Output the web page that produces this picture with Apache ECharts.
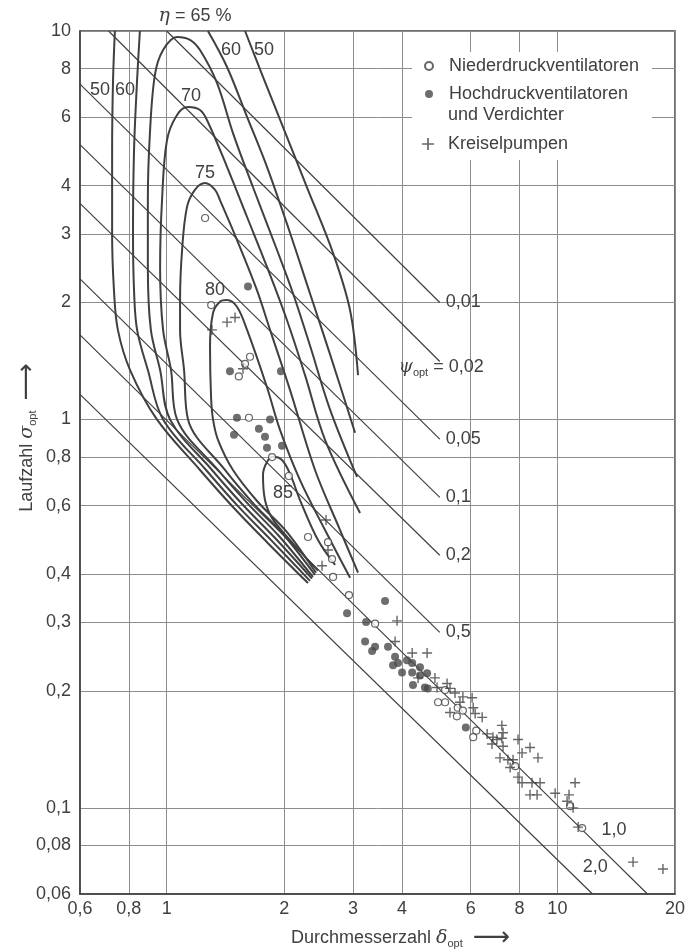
<!DOCTYPE html>
<html><head><meta charset="utf-8">
<script src="https://cdn.jsdelivr.net/npm/echarts@6/dist/echarts.min.js"></script>
<style>html,body{margin:0;padding:0;background:#fff}#c{width:693px;height:951px}</style>
</head><body><div id="c"></div>
<script>
// ---------- axis ticks ----------
const xTicks = [0.6, 0.8, 1, 2, 3, 4, 6, 8, 10, 20];
const xTickLabels = ['0,6', '0,8', '1', '2', '3', '4', '6', '8', '10', '20'];
const yTicks = [0.06, 0.08, 0.1, 0.2, 0.3, 0.4, 0.6, 0.8, 1, 2, 3, 4, 6, 8, 10];
const yTickLabels = ['0,06', '0,08', '0,1', '0,2', '0,3', '0,4', '0,6', '0,8', '1', '2', '3', '4', '6', '8', '10'];

// ---------- efficiency curves (delta, sigma) ----------
const eta50Left = [[0.737,10],[0.729,7.48],[0.725,4.94],[0.725,3.02],[0.733,2.15],[0.750,1.70],[0.806,1.34],[0.944,1.00],[1.217,0.741],[1.478,0.595],[1.806,0.483],[2.30,0.379]];
const eta50Right = [[1.587,10],[1.764,7.62],[1.985,5.66],[2.286,3.96],[2.666,2.68],[2.947,1.91],[3.089,1.30]];
const eta60Left = [[0.854,10],[0.840,7.48],[0.825,4.94],[0.820,3.02],[0.825,2.15],[0.840,1.70],[0.895,1.34],[0.979,1.00],[1.261,0.741],[1.522,0.598],[1.850,0.489],[2.327,0.384]];
const eta60Right = [[1.275,10],[1.427,8.08],[1.606,6.01],[1.806,4.47],[2.069,3.02],[2.327,2.11],[2.619,1.47],[3.035,0.924]];
const eta65 = [[2.355,0.389],[1.894,0.495],[1.568,0.602],[1.306,0.741],[1.020,1.00],[0.962,1.34],[0.911,1.70],[0.895,2.47],[0.895,3.67],[0.906,5.46],[0.933,7.71],[0.979,8.93],[1.063,9.65],[1.147,9.49],[1.217,8.93],[1.345,7.35],[1.478,5.46],[1.663,3.96],[1.916,2.73],[2.106,2.11],[2.327,1.55],[2.619,1.06],[3.071,0.711]];
const eta70 = [[2.368,0.393],[1.938,0.501],[1.615,0.606],[1.353,0.741],[1.063,1.00],[1.026,1.34],[0.979,1.70],[0.962,2.47],[0.973,3.67],[1.002,5.24],[1.063,6.08],[1.134,6.37],[1.217,6.26],[1.268,5.90],[1.427,4.47],[1.606,3.32],[1.806,2.47],[2.032,1.80],[2.260,1.30],[2.543,0.886],[3.126,0.574]];
const eta75 = [[2.397,0.398],[1.985,0.507],[1.663,0.609],[1.410,0.741],[1.134,1.00],[1.108,1.34],[1.082,1.70],[1.082,2.03],[1.095,2.73],[1.127,3.52],[1.181,3.90],[1.254,4.06],[1.330,3.90],[1.369,3.67],[1.513,2.90],[1.703,2.15],[1.839,1.70],[2.069,1.19],[2.397,0.741],[2.778,0.519],[3.089,0.403]];
const eta80 = [[2.411,0.403],[2.032,0.513],[1.712,0.613],[1.478,0.741],[1.353,0.886],[1.314,1.00],[1.299,1.14],[1.291,1.54],[1.314,1.88],[1.369,2.01],[1.427,2.03],[1.513,1.95],[1.606,1.70],[1.806,1.21],[1.950,0.940],[2.194,0.698],[2.543,0.519],[2.947,0.391]];
const eta85 = [[2.439,0.408],[2.069,0.489],[1.861,0.557],[1.785,0.620],[1.764,0.719],[1.806,0.777],[1.872,0.801],[1.973,0.786],[2.069,0.724],[2.194,0.620],[2.439,0.489],[2.698,0.422]];

// ---------- pressure-number lines psi_opt ----------
const psiLabels = ['0,01', '0,02', '0,05', '0,1', '0,2', '0,5', '1,0', '2,0'];
const psi001 = [[1.0,10],[5.0,2.0]];
const psi002 = [[0.71,10],[5.0,1.41]];
const psi005 = [[0.6,7.3],[5.0,0.89]];
const psi01 = [[0.6,5.1],[5.0,0.63]];
const psi02 = [[0.6,3.6],[5.0,0.447]];
const psi05 = [[0.6,2.3],[5.0,0.283]];
const psi10 = [[0.6,1.65],[11.6,0.0876],[17.0,0.06]];
const psi20 = [[0.6,1.16],[10.45,0.0704],[12.3,0.06]];

// ---------- measured machines ----------
const niederdruck = [[1.254,3.30],[1.30,1.97],[1.634,1.45],[1.587,1.39],[1.530,1.29],[1.624,1.01],[1.861,0.80],[2.055,0.715],[2.30,0.498],[2.588,0.483],[2.650,0.437],[2.666,0.393],[2.928,0.353],[3.415,0.298],[5.16,0.201],[4.95,0.187],[5.16,0.187],[5.56,0.181],[5.73,0.178],[5.53,0.172],[6.20,0.158],[6.09,0.152],[7.80,0.128],[10.78,0.101],[11.57,0.0887]];
const hochdruck = [[1.615,2.20],[1.452,1.33],[1.961,1.33],[1.513,1.01],[1.839,1.00],[1.487,0.913],[1.722,0.946],[1.785,0.902],[1.806,0.845],[1.973,0.855],[2.895,0.317],[3.622,0.341],[3.239,0.301],[3.220,0.268],[3.415,0.260],[3.356,0.2535],[3.685,0.260],[3.796,0.233],[3.909,0.236],[4.122,0.240],[4.25,0.236],[4.003,0.223],[4.25,0.223],[4.45,0.230],[4.45,0.219],[4.64,0.222],[4.27,0.207],[4.58,0.204],[4.66,0.203],[5.83,0.161],[3.842,0.245]];
const kreiselpumpen = [[1.306,1.70],[1.427,1.78],[1.496,1.83],[1.568,1.35],[2.558,0.551],[2.588,0.461],[2.498,0.420],[3.887,0.303],[3.842,0.268],[4.25,0.2505],[4.64,0.2505],[4.40,0.216],[4.86,0.216],[5.22,0.209],[4.92,0.204],[5.31,0.203],[5.47,0.1975],[5.73,0.193],[6.05,0.192],[5.63,0.187],[6.09,0.181],[6.42,0.171],[5.31,0.176],[6.16,0.175],[6.61,0.155],[6.84,0.152],[7.21,0.163],[7.26,0.156],[7.00,0.150],[6.80,0.146],[7.21,0.151],[7.26,0.144],[7.93,0.150],[8.12,0.1385],[8.51,0.143],[8.92,0.1345],[7.13,0.1345],[7.47,0.133],[7.70,0.133],[7.57,0.127],[7.93,0.120],[8.12,0.116],[8.61,0.116],[9.03,0.116],[8.51,0.108],[8.87,0.108],[9.87,0.109],[11.10,0.116],[10.71,0.108],[10.59,0.104],[10.97,0.100],[11.30,0.0892],[15.62,0.0725],[18.63,0.0696]];

// ---------- styling ----------
const INK = '#404040';
const GRIDC = '#8c8c8c';
const FONT = '"Liberation Sans", Arial, Helvetica, sans-serif';
const SERIF = '"DejaVu Serif", "Liberation Serif", serif';
const PLUS = 'path://M4.3,0h1.4v4.3h4.3v1.4h-4.3v4.3h-1.4v-4.3h-4.3v-1.4h4.3z';

function nearestLabel(ticks, labels) {
  return function (v) {
    let best = 0;
    for (let i = 1; i < ticks.length; i++) {
      if (Math.abs(Math.log(ticks[i] / v)) < Math.abs(Math.log(ticks[best] / v))) best = i;
    }
    return labels[best];
  };
}

const baseLabel = { show: true, color: INK, fontSize: 18, fontFamily: FONT };

function curve(name, pts, lab) {
  return {
    type: 'line', name: name,
    data: pts.map(function (p, i) {
      if (lab && i === lab.index) {
        return { value: p, label: Object.assign({}, baseLabel, lab.style) };
      }
      return p;
    }),
    showSymbol: true, showAllSymbol: true, symbol: 'circle', symbolSize: 0,
    itemStyle: { color: 'transparent' },
    label: { show: false },
    smooth: 0.35,
    lineStyle: { color: INK, width: 2 },
    silent: true, z: 3, emphasis: { disabled: true }
  };
}

function psiLine(pts, text, endStyle, mid) {
  const s = {
    type: 'line',
    data: pts.map(function (p, i) {
      if (mid && i === 1) return { value: p, label: Object.assign({}, baseLabel, { formatter: text }, mid) };
      return p;
    }),
    showSymbol: true, showAllSymbol: true, symbol: 'circle', symbolSize: 0,
    itemStyle: { color: 'transparent' }, label: { show: false },
    lineStyle: { color: INK, width: 1.2 },
    silent: true, z: 3, emphasis: { disabled: true }
  };
  if (endStyle) s.endLabel = Object.assign({}, baseLabel, { formatter: text, distance: 6 }, endStyle);
  return s;
}

const etaRich = { i: { fontStyle: 'italic', fontFamily: SERIF, fontSize: 19, color: INK } };
const psiRich = {
  g: { fontStyle: 'italic', fontFamily: SERIF, fontSize: 18, color: INK, lineHeight: 22 },
  s: { fontSize: 11, fontFamily: FONT, color: INK, verticalAlign: 'bottom', lineHeight: 12 },
  n: { fontSize: 18, fontFamily: FONT, color: INK, lineHeight: 22 }
};

const series = [
  curve('eta50L', eta50Left, { index: 1, style: { formatter: '50', position: 'left', distance: 3, offset: [0, 10] } }),
  curve('eta50R', eta50Right, { index: 1, style: { formatter: '50', position: 'top', distance: 18, offset: [1, 0] } }),
  curve('eta60L', eta60Left, { index: 1, style: { formatter: '60', position: 'left', distance: 2, offset: [0, 10] } }),
  curve('eta60R', eta60Right, { index: 1, style: { formatter: '60', position: 'top', distance: 8, offset: [4, 0] } }),
  curve('eta65', eta65, { index: 12, style: { formatter: '{i|η} = 65 %', rich: etaRich, position: 'top', distance: 5, offset: [18, -6] } }),
  curve('eta70', eta70, { index: 11, style: { formatter: '70', position: 'top', distance: 2, offset: [3, 0] } }),
  curve('eta75', eta75, { index: 11, style: { formatter: '75', position: 'top', distance: 1, offset: [0, 0] } }),
  curve('eta80', eta80, { index: 10, style: { formatter: '80', position: 'top', distance: 1, offset: [-12, 0] } }),
  curve('eta85', eta85, { index: 9, style: { formatter: '85', position: 'left', distance: 7, offset: [0, -7] } }),
  psiLine(psi001, psiLabels[0], {}),
  psiLine(psi002, '{g|ψ}{s|opt}{n| = ' + psiLabels[1] + '}', { rich: psiRich, offset: [-47, 6] }),
  psiLine(psi005, psiLabels[2], {}),
  psiLine(psi01, psiLabels[3], {}),
  psiLine(psi02, psiLabels[4], {}),
  psiLine(psi05, psiLabels[5], {}),
  psiLine(psi10, psiLabels[6], null, { position: 'right', distance: 19 }),
  psiLine(psi20, psiLabels[7], null, { position: 'right', distance: 18 }),
  {
    type: 'scatter', name: 'Niederdruckventilatoren', data: niederdruck,
    symbol: 'circle', symbolSize: 7,
    itemStyle: { color: '#fff', borderColor: INK, borderWidth: 1.2 }, z: 5
  },
  {
    type: 'scatter', name: 'Hochdruckventilatoren', data: hochdruck,
    symbol: 'circle', symbolSize: 8,
    itemStyle: { color: '#4a4a4a' }, z: 5
  },
  {
    type: 'scatter', name: 'Kreiselpumpen', data: kreiselpumpen,
    symbol: PLUS, symbolSize: 10,
    itemStyle: { color: INK }, z: 5
  }
];

const nameRich = {
  t: { fontSize: 18, fontFamily: FONT, color: INK, lineHeight: 22 },
  g: { fontSize: 19, fontFamily: SERIF, fontStyle: 'italic', color: INK, lineHeight: 22 },
  s: { fontSize: 11, fontFamily: FONT, color: INK, verticalAlign: 'bottom', lineHeight: 12 },
  a: { fontSize: 26, fontFamily: '"DejaVu Sans", sans-serif', color: INK, lineHeight: 22 }
};

const legendText = { color: INK, fontSize: 18, fontFamily: FONT, lineHeight: 22, padding: [0, 0, 0, 11] };

const option = {
  animation: false,
  backgroundColor: '#fff',
  grid: { left: 80, right: 18, top: 31, bottom: 57, outerBoundsMode: 'none', containLabel: false,
          show: true, borderColor: INK, borderWidth: 1.5, backgroundColor: 'transparent' },
  xAxis: {
    type: 'log', logBase: 10, min: 0.6, max: 20,
    axisLine: { show: true, lineStyle: { color: INK, width: 1.5 } },
    axisTick: { show: false, customValues: xTicks },
    axisLabel: { customValues: xTicks, formatter: nearestLabel(xTicks, xTickLabels), color: INK, fontSize: 18, fontFamily: FONT, margin: 6 },
    splitLine: { show: true, lineStyle: { color: GRIDC, width: 1 } },
    minorSplitLine: { show: false },
    name: '{t|Durchmesserzahl }{g|δ}{s|opt}{t|  }{a|⟶}',
    nameLocation: 'middle', nameGap: 33, nameMoveOverlap: false,
    nameTextStyle: { padding: [0, 0, 0, 46], rich: nameRich }
  },
  yAxis: {
    type: 'log', logBase: 10, min: 0.06, max: 10,
    axisLine: { show: true, lineStyle: { color: INK, width: 1.5 } },
    axisTick: { show: false, customValues: yTicks },
    axisLabel: { customValues: yTicks, formatter: nearestLabel(yTicks, yTickLabels), color: INK, fontSize: 18, fontFamily: FONT, margin: 9 },
    splitLine: { show: true, lineStyle: { color: GRIDC, width: 1 } },
    name: '{t|Laufzahl }{g|σ}{s|opt}{t|  }{a|⟶}',
    nameLocation: 'middle', nameGap: 42, nameMoveOverlap: false,
    nameTextStyle: { padding: [0, 0, 0, 50], rich: nameRich }
  },
  legend: [
    { orient: 'vertical', left: 414, top: 55, itemWidth: 8, itemHeight: 8, itemGap: 6,
      padding: [0, 0, 0, 10], selectedMode: false, textStyle: legendText,
      data: ['Niederdruckventilatoren', 'Hochdruckventilatoren'] },
    { orient: 'vertical', left: 412, top: 133, itemWidth: 12, itemHeight: 12, itemGap: 6,
      padding: [0, 0, 0, 10], selectedMode: false,
      textStyle: Object.assign({}, legendText, { padding: [0, 0, 0, 9] }),
      data: ['Kreiselpumpen'] }
  ],
  graphic: [
    { type: 'rect', shape: { x: 412, y: 52, width: 240, height: 108 }, style: { fill: '#fff' }, z: 1, silent: true },
    { type: 'text', x: 448, y: 115, style: { text: 'und Verdichter', fill: INK, font: '18px ' + FONT, verticalAlign: 'middle' }, z: 6, silent: true }
  ],
  series: series
};

const chart = echarts.init(document.getElementById('c'), null, { renderer: 'canvas' });
chart.setOption(option);
</script>
</body></html>
